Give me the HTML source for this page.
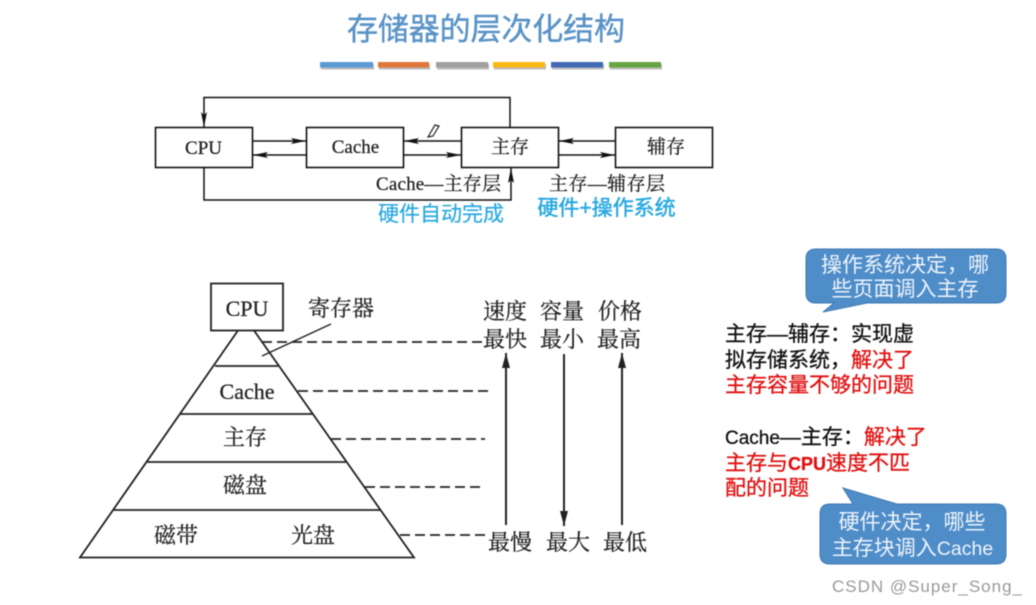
<!DOCTYPE html>
<html><head><meta charset="utf-8"><style>
html,body{margin:0;padding:0;background:#fff}
svg{display:block}
.sans{font-family:"Liberation Sans","Noto Sans CJK SC",sans-serif}
.serif{font-family:"Liberation Serif","Noto Serif CJK SC",serif;fill:#222;stroke:#222;stroke-width:.25}
.k{fill:#111;stroke:#111;stroke-width:.3}
.r{fill:#e01010;stroke:#e01010;stroke-width:.3}
</style></head><body>
<svg width="1036" height="605" viewBox="0 0 1036 605" xmlns="http://www.w3.org/2000/svg" style="filter:blur(.5px)">
<defs>
<marker id="a" markerWidth="16" markerHeight="8" refX="15" refY="4" orient="auto" markerUnits="userSpaceOnUse"><path d="M0 1L15 4L0 7L3 4Z" fill="#111"/></marker>
<marker id="b" markerWidth="16" markerHeight="10" refX="15" refY="5" orient="auto" markerUnits="userSpaceOnUse"><path d="M0 1L15 5L0 9Z" fill="#222"/></marker>
</defs>
<rect width="1036" height="605" fill="#fff"/>
<text x="486" y="40" text-anchor="middle" class="sans" font-size="31" fill="#5b93c7" stroke="#5b93c7" stroke-width=".4" textLength="278">存储器的层次化结构</text>
<g fill="#bbb">
<rect x="321" y="64" width="53" height="5.500"/><rect x="379" y="64" width="51" height="5.500"/><rect x="437" y="64" width="52" height="5.500"/><rect x="494" y="64" width="52" height="5.500"/><rect x="552" y="64" width="52" height="5.500"/><rect x="610" y="64" width="52" height="5.500"/>
</g>
<g>
<rect x="320" y="62" width="53" height="5.500" fill="#5b9bd5"/>
<rect x="378" y="62" width="51" height="5.500" fill="#e0763a"/>
<rect x="436" y="62" width="52" height="5.500" fill="#a0a0a0"/>
<rect x="493" y="62" width="52" height="5.500" fill="#f9b912"/>
<rect x="551" y="62" width="52" height="5.500" fill="#4169b4"/>
<rect x="609" y="62" width="52" height="5.500" fill="#66a543"/>
</g>
<!-- top diagram -->
<g fill="#fff" stroke="#111" stroke-width="1.600">
<rect x="155.500" y="127.500" width="97" height="40"/>
<rect x="306.500" y="127.500" width="97" height="40"/>
<rect x="461.500" y="127.500" width="97" height="40"/>
<rect x="615.500" y="127.500" width="97" height="40"/>
</g>
<g fill="none" stroke="#111" stroke-width="1.500">
<path d="M510 127V97.500H204V127" marker-end="url(#a)"/>
<path d="M204 167V200H511V168" marker-end="url(#a)"/>
<path d="M252 141H306" marker-end="url(#a)"/>
<path d="M306 155H253" marker-end="url(#a)"/>
<path d="M461 141H404" marker-end="url(#a)"/>
<path d="M403 155H461" marker-end="url(#a)"/>
<path d="M615 141H559" marker-end="url(#a)"/>
<path d="M558 155H615" marker-end="url(#a)"/>
</g>
<path d="M428 137L435 125L439 126L433 136Z" fill="#fff" stroke="#222" stroke-width="1.200"/>
<g class="serif" font-size="19" text-anchor="middle">
<text x="203.500" y="154">CPU</text>
<text x="355.500" y="153">Cache</text>
<text x="510" y="153">主存</text>
<text x="666" y="153">辅存</text>
<text x="438.500" y="190" textLength="125">Cache—主存层</text>
<text x="607" y="190" textLength="116">主存—辅存层</text>
</g>
<text x="441" y="221" text-anchor="middle" class="sans" font-size="21" fill="#29a9e0" stroke="#29a9e0" stroke-width=".2">硬件自动完成</text>
<text x="606.500" y="215" text-anchor="middle" class="sans" font-size="21" fill="#29a9e0" stroke="#29a9e0" stroke-width=".5">硬件+操作系统</text>
<!-- pyramid -->
<rect x="211" y="283.500" width="72" height="47" fill="#fff" stroke="#222" stroke-width="1.800"/>
<g stroke="#222" stroke-width="1.800" fill="none">
<path d="M238 330.500L80 557.500H414L254 330.500"/>
<path d="M215 366H278M180 414H313M147 462H346M113 510H380"/>
<path d="M331 324L262 356" stroke-width="1.500"/>
<g stroke-dasharray="10 5" stroke-width="1.700">
<path d="M262 342H484M298 391H489M331 439H485M365 487H483M400 535H488"/>
</g>
</g>
<g stroke="#222" stroke-width="2" fill="none">
<path d="M506 525V353" marker-end="url(#b)"/>
<path d="M564 354V526" marker-end="url(#b)"/>
<path d="M622 525V353" marker-end="url(#b)"/>
</g>
<g class="serif" font-size="22" text-anchor="middle">
<text x="247" y="316">CPU</text>
<text x="341" y="316">寄存器</text>
<text x="247" y="399">Cache</text>
<text x="245" y="445">主存</text>
<text x="245" y="493">磁盘</text>
<text x="176" y="543">磁带</text>
<text x="313" y="543">光盘</text>
<text x="505" y="319">速度</text><text x="562" y="319">容量</text><text x="620" y="319">价格</text>
<text x="505" y="347">最快</text><text x="562" y="347">最小</text><text x="619" y="347">最高</text>
<text x="510" y="550">最慢</text><text x="568" y="550">最大</text><text x="625" y="550">最低</text>
</g>
<!-- callouts -->
<path d="M816 249H996Q1006 249 1006 259V293Q1006 303 996 303H867L823 312L834 303H816Q806 303 806 293V259Q806 249 816 249Z" fill="#4f8dc9" stroke="#3f78b0"/>
<path d="M830 504H853L843 488L897 504H996Q1006 504 1006 514V554Q1006 564 996 564H830Q820 564 820 554V514Q820 504 830 504Z" fill="#4f8dc9" stroke="#3f78b0"/>
<g class="sans" font-size="21" fill="#eef4fa" text-anchor="middle">
<text x="905" y="272">操作系统决定，哪</text>
<text x="905" y="296">些页面调入主存</text>
<text x="912" y="529">硬件决定，哪些</text>
<text x="912.500" y="555">主存块调入<tspan font-size="19.500">Cache</tspan></text>
</g>
<g class="sans" font-size="21">
<text x="725" y="341" class="k">主存—辅存：实现虚</text>
<text x="725" y="367" class="k">拟存储系统，<tspan class="r">解决了</tspan></text>
<text x="725" y="392" class="r">主存容量不够的问题</text>
<text x="725" y="444" class="k"><tspan font-size="19">Cache</tspan>—主存：<tspan class="r">解决了</tspan></text>
<text x="725" y="470" class="r">主存与<tspan font-size="18" font-weight="bold">CPU</tspan>速度不匹</text>
<text x="725" y="495" class="r">配的问题</text>
</g>
<text x="832" y="592" class="sans" font-size="17" fill="#999" textLength="190">CSDN @Super_Song_</text>
</svg>
</body></html>
